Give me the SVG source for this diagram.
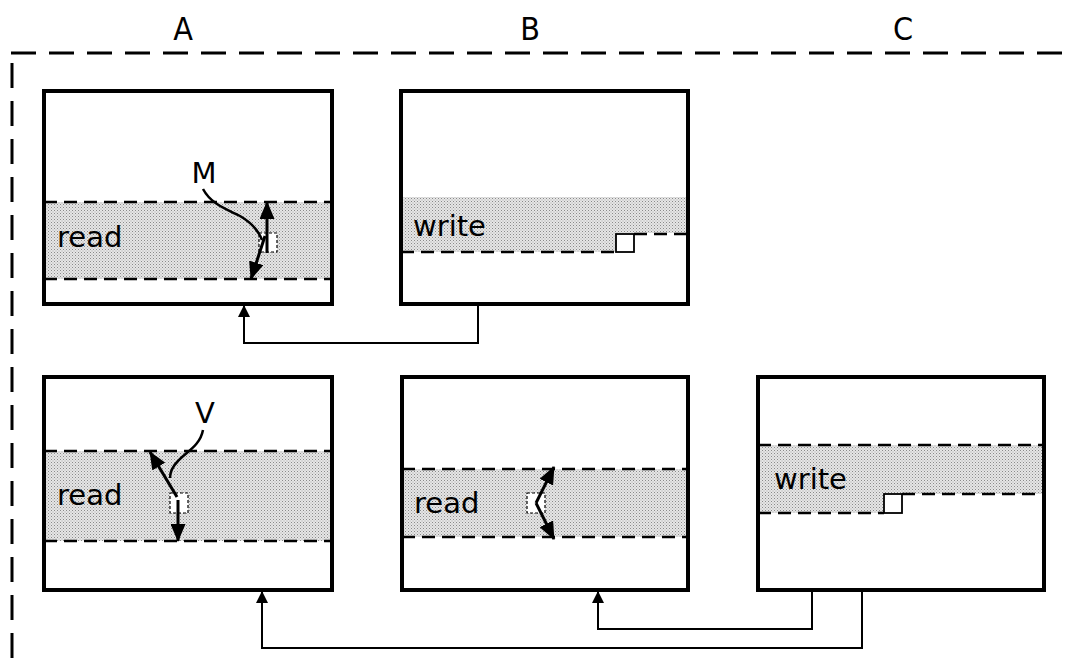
<svg xmlns="http://www.w3.org/2000/svg" width="1075" height="667" viewBox="0 0 1075 667">
<defs>
<pattern id="dots" width="3" height="3" patternUnits="userSpaceOnUse">
<rect width="3" height="3" fill="#e6e6e6"/>
<rect width="1" height="1" fill="#8a8a8a"/>
<rect x="1.5" y="1.5" width="1" height="1" fill="#a8a8a8"/>
</pattern>
<marker id="big" viewBox="0 0 18 15" refX="17" refY="7.5" markerWidth="18" markerHeight="15" markerUnits="userSpaceOnUse" orient="auto">
<path d="M0,0 L18,7.5 L0,15 Z" fill="#000"/>
</marker>
<marker id="small" viewBox="0 0 12 12" refX="11" refY="6" markerWidth="12" markerHeight="12" markerUnits="userSpaceOnUse" orient="auto">
<path d="M0,0 L12,6 L0,12 Z" fill="#000"/>
</marker>
<style>
.box{fill:none;stroke:#000;stroke-width:4}
.band{fill:url(#dots);stroke:none}
.dl{stroke:#000;stroke-width:2.5;stroke-dasharray:13 7;fill:none}
.sq{fill:#fff;stroke:#000;stroke-width:1.8}
.sqd{fill:#fff;stroke:#000;stroke-width:1.2;stroke-dasharray:3 2}
.arr{stroke:#000;stroke-width:3;fill:none;marker-end:url(#big)}
.cur{stroke:#000;stroke-width:2.5;fill:none}
.con{stroke:#000;stroke-width:2;fill:none;marker-end:url(#small)}
.t{font-family:"DejaVu Sans",Verdana,sans-serif;font-size:29px;fill:#000}
.h{font-family:"DejaVu Sans Condensed","DejaVu Sans",sans-serif;font-size:32px;fill:#000;text-anchor:middle}
.frame{stroke:#000;stroke-width:3;fill:none;stroke-dasharray:25 13}
</style>
</defs>

<g id="frame">
<line class="frame" x1="11" y1="53" x2="1075" y2="53"/>
<line class="frame" x1="12" y1="63" x2="12" y2="662"/>
<text class="h" x="183" y="40">A</text>
<text class="h" x="530" y="40">B</text>
<text class="h" x="903" y="40">C</text>
</g>

<g id="A1">
<rect class="band" x="44" y="202" width="288" height="77"/>
<line class="dl" x1="44" y1="202" x2="332" y2="202"/>
<line class="dl" x1="44" y1="279" x2="332" y2="279"/>
<rect class="box" x="44" y="91" width="288" height="213"/>
<text class="t" x="57" y="247">read</text>
<rect class="sqd" x="259" y="233" width="18" height="19"/>
<path class="cur" d="M203,189 C211,204 226,209 240,216 C252,223 259,232 262,240"/>
<line class="arr" x1="267" y1="253" x2="267" y2="202"/>
<line class="arr" x1="265" y1="236" x2="251" y2="279"/>
<text class="t" x="204" y="183" text-anchor="middle">M</text>
</g>

<g id="B1">
<rect class="band" x="401" y="197" width="287" height="36"/>
<rect class="band" x="401" y="233" width="216" height="19"/>
<line class="dl" x1="401" y1="252" x2="616" y2="252"/>
<line class="dl" x1="634" y1="234" x2="688" y2="234"/>
<rect class="sq" x="616" y="234" width="18" height="18"/>
<rect class="box" x="401" y="91" width="287" height="213"/>
<text class="t" x="413" y="236">write</text>
</g>

<g id="A2">
<rect class="band" x="44" y="451" width="288" height="90"/>
<line class="dl" x1="44" y1="451" x2="332" y2="451"/>
<line class="dl" x1="44" y1="541" x2="332" y2="541"/>
<rect class="box" x="44" y="377" width="288" height="213"/>
<text class="t" x="57" y="505">read</text>
<rect class="sqd" x="170" y="493" width="18" height="20"/>
<path class="cur" d="M203,430 C200,446 186,452 178,461 C172,467 170,473 170,478"/>
<line class="arr" x1="177" y1="497" x2="150" y2="452"/>
<line class="arr" x1="178" y1="500" x2="178" y2="541"/>
<text class="t" x="205" y="423" text-anchor="middle">V</text>
</g>

<g id="B2">
<rect class="band" x="402" y="469" width="286" height="68"/>
<line class="dl" x1="402" y1="469" x2="688" y2="469"/>
<line class="dl" x1="402" y1="537" x2="688" y2="537"/>
<rect class="box" x="402" y="377" width="286" height="213"/>
<text class="t" x="414" y="513">read</text>
<rect class="sqd" x="527" y="493" width="18" height="20"/>
<line class="arr" x1="536" y1="503" x2="554" y2="467"/>
<line class="arr" x1="536" y1="503" x2="554" y2="539"/>
</g>

<g id="C2">
<rect class="band" x="758" y="445" width="286" height="49"/>
<rect class="band" x="758" y="494" width="126" height="19"/>
<line class="dl" x1="758" y1="445" x2="1044" y2="445"/>
<line class="dl" x1="758" y1="513" x2="884" y2="513"/>
<line class="dl" x1="902" y1="494" x2="1044" y2="494"/>
<rect class="sq" x="884" y="494" width="18" height="19"/>
<rect class="box" x="758" y="377" width="286" height="213"/>
<text class="t" x="774" y="489">write</text>
</g>

<g id="connectors">
<path class="con" d="M478,304 V343 H244 V306"/>
<path class="con" d="M812,590 V629 H598 V592"/>
<path class="con" d="M862,590 V648 H262 V592"/>
</g>
</svg>
